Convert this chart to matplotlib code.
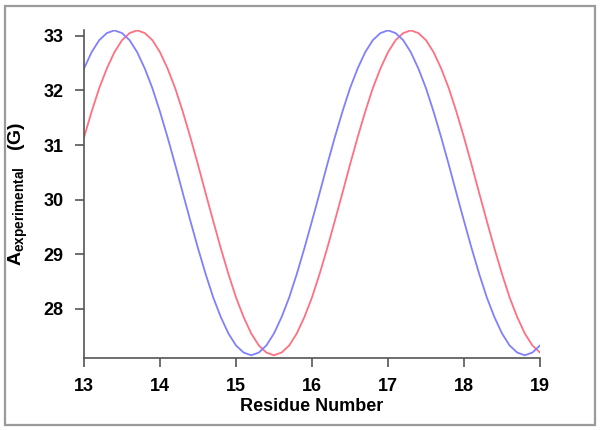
import matplotlib
matplotlib.use("Agg")
import matplotlib.pyplot as plt
from matplotlib.patches import Rectangle

plt.rcParams['font.family'] = ['Liberation Sans', 'DejaVu Sans']
plt.rcParams['mathtext.fontset'] = 'custom'
plt.rcParams['mathtext.rm'] = 'Liberation Sans:bold'
plt.rcParams['mathtext.bf'] = 'Liberation Sans:bold'
plt.rcParams['mathtext.it'] = 'Liberation Sans:bold'

residue = [13.0, 13.1, 13.2, 13.3, 13.4, 13.5, 13.6, 13.7, 13.8, 13.9,
           14.0, 14.1, 14.2, 14.3, 14.4, 14.5, 14.6, 14.7, 14.8, 14.9,
           15.0, 15.1, 15.2, 15.3, 15.4, 15.5, 15.6, 15.7, 15.8, 15.9,
           16.0, 16.1, 16.2, 16.3, 16.4, 16.5, 16.6, 16.7, 16.8, 16.9,
           17.0, 17.1, 17.2, 17.3, 17.4, 17.5, 17.6, 17.7, 17.8, 17.9,
           18.0, 18.1, 18.2, 18.3, 18.4, 18.5, 18.6, 18.7, 18.8, 18.9,
           19.0]

blue_vals = [32.40, 32.70, 32.92, 33.05, 33.10,
             33.05, 32.92, 32.70, 32.40, 32.04, 31.61, 31.14, 30.64, 30.12,
             29.61, 29.11, 28.64, 28.21, 27.85, 27.55, 27.33, 27.20, 27.15,
             27.20, 27.33, 27.55, 27.85, 28.21, 28.64, 29.11, 29.61, 30.12,
             30.64, 31.14, 31.61, 32.04, 32.40, 32.70, 32.92, 33.05, 33.10,
             33.05, 32.92, 32.70, 32.40, 32.04, 31.61, 31.14, 30.64, 30.12,
             29.61, 29.11, 28.64, 28.21, 27.85, 27.55, 27.33, 27.20, 27.15,
             27.20, 27.33]

red_vals = [31.14, 31.61, 32.04, 32.40, 32.70, 32.92, 33.05, 33.10,
            33.05, 32.92, 32.70, 32.40, 32.04, 31.61, 31.14, 30.64, 30.12,
            29.61, 29.11, 28.64, 28.21, 27.85, 27.55, 27.33, 27.20, 27.15,
            27.20, 27.33, 27.55, 27.85, 28.21, 28.64, 29.11, 29.61, 30.12,
            30.64, 31.14, 31.61, 32.04, 32.40, 32.70, 32.92, 33.05, 33.10,
            33.05, 32.92, 32.70, 32.40, 32.04, 31.61, 31.14, 30.64, 30.12,
            29.61, 29.11, 28.64, 28.21, 27.85, 27.55, 27.33, 27.20]

x_ticks = [13, 14, 15, 16, 17, 18, 19]
y_ticks = [28, 29, 30, 31, 32, 33]

fig = plt.figure(figsize=(6.0, 4.3), dpi=100)
fig.patches.append(Rectangle((0.009, 0.012), 0.982, 0.975, transform=fig.transFigure,
                             fill=False, edgecolor='#9a9a9a', linewidth=1.6))
ax = fig.add_axes([0.14, 0.1674, 0.76, 0.762])

ax.plot(residue, red_vals, color='#ff7080', linewidth=1.3)
ax.plot(residue, blue_vals, color='#8080ff', linewidth=1.3)

ax.set_xlim(13, 19)
ax.set_ylim(27.1, 33.1)
ax.set_xticks(x_ticks)
ax.set_yticks(y_ticks)

for s in ['top', 'right']:
    ax.spines[s].set_visible(False)
for s in ['left', 'bottom']:
    ax.spines[s].set_color('#555555')
    ax.spines[s].set_linewidth(1.2)
ax.spines['bottom'].set_bounds(13, 19)

ax.tick_params(axis='both', direction='out', length=6.5, width=1.2, color='#555555',
               labelsize=13, pad=8)
for lab in ax.get_xticklabels() + ax.get_yticklabels():
    lab.set_fontweight('bold')

ax.set_xlabel('Residue Number', fontsize=13, fontweight='bold', labelpad=2)
ax.set_ylabel(r'$\mathbf{A}_{\mathbf{experimental}}$   (G)', fontsize=14,
              fontweight='bold', labelpad=10)

fig.savefig('out.png', dpi=100)
